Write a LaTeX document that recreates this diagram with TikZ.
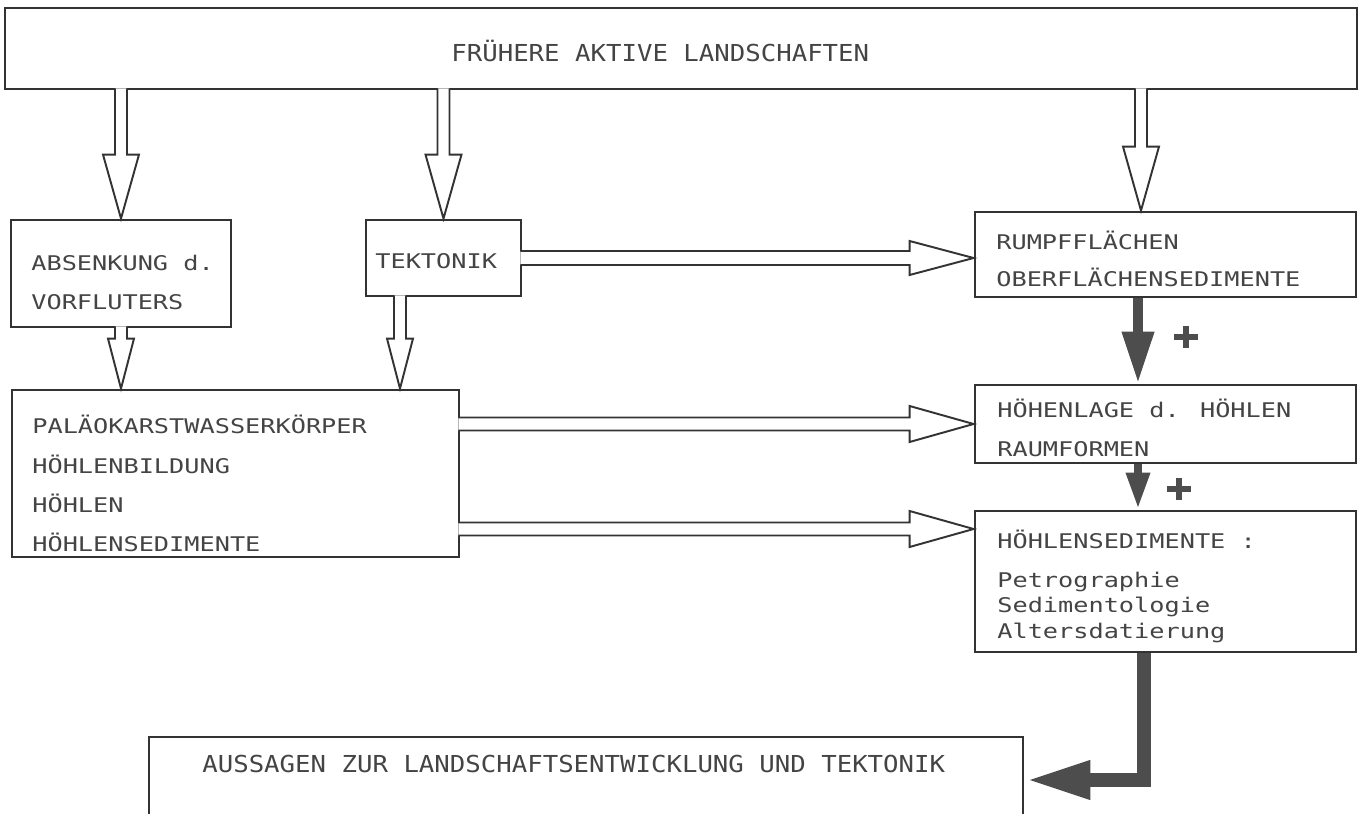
\documentclass[tikz,border=0pt]{standalone}
\usepackage{fontspec}
\newfontfamily\plotfont{DejaVu Sans Mono}[FakeStretch=1.25]
\newfontfamily\plotwide{DejaVu Sans Mono}[FakeStretch=1.1]
\usetikzlibrary{arrows.meta,calc,fit}

\definecolor{ink}{HTML}{333333}
\definecolor{textink}{HTML}{444444}
\definecolor{darkink}{HTML}{4D4D4D}

\tikzset{
  box/.style={draw=ink,line width=1.6pt,inner sep=0pt},
  txt/.style={anchor=base west,inner sep=0pt,text=textink,
    font=\plotfont\fontsize{11.5}{14}\selectfont},
  toptxt/.style={txt,font=\plotwide\fontsize{13.3}{16}\selectfont},
  hollow/.style={draw=ink,line width=1.1pt,fill=white,line join=miter},
  bigarrow/.style={darkink,line width=5.7pt,
    -{Triangle[length=1.04cm,width=0.6cm]}},
  midarrow/.style={darkink,line width=5pt,
    -{Triangle[length=0.74cm,width=0.44cm]}},
  elbowarrow/.style={darkink,line width=8.5pt,
    -{Triangle[length=1.32cm,width=0.7cm]}},
  plusmark/.style={darkink,line width=3.4pt},
}

% hollow block arrows: start, tip, shaft half width, head half width, head length
\newcommand\hdown[5]{%
  \filldraw[hollow] ($(#1)+(-#3,-2)$) -- ($(#2)+(-#3,-#5)$) -- ($(#2)+(-#4,-#5)$)
    -- (#2) -- ($(#2)+(#4,-#5)$) -- ($(#2)+(#3,-#5)$) -- ($(#1)+(#3,-2)$);}
\newcommand\hright[5]{%
  \filldraw[hollow] ($(#1)+(-2,-#3)$) -- ($(#2)+(-#5,-#3)$) -- ($(#2)+(-#5,-#4)$)
    -- (#2) -- ($(#2)+(-#5,#4)$) -- ($(#2)+(-#5,#3)$) -- ($(#1)+(-2,#3)$);}

\begin{document}
\begin{tikzpicture}[x=0.02cm,y=-0.02cm]
  \useasboundingbox (0,0) rectangle (1360,814);
  \clip (0,0) rectangle (1360,814);

  % boxes
  \node[box,fit={(5,8) (1357,89)}] (top) {};
  \node[box,fit={(11,220) (231,327)}] (absenk) {};
  \node[box,fit={(366,220) (521,296)}] (tekt) {};
  \node[box,fit={(975,212) (1356,297)}] (rumpf) {};
  \node[box,fit={(12,390) (459,557)}] (palaeo) {};
  \node[box,fit={(975,385) (1356,463)}] (hoehen) {};
  \node[box,fit={(975,511) (1356,652)}] (sedi) {};
  \node[box,fit={(149,737) (1023,850)}] (aussagen) {};

  % texts
  \node[toptxt] (t-top) at (451,62) {FRÜHERE AKTIVE LANDSCHAFTEN};
  \node[txt] (t-absenk1) at (31,271) {ABSENKUNG d.};
  \node[txt] (t-absenk2) at (31,310) {VORFLUTERS};
  \node[txt] (t-tekt) at (375,269) {TEKTONIK};
  \node[txt] (t-rumpf1) at (996,250) {RUMPFFLÄCHEN};
  \node[txt] (t-rumpf2) at (996,287) {OBERFLÄCHENSEDIMENTE};
  \foreach \t/\yy in {PALÄOKARSTWASSERKÖRPER/434,HÖHLENBILDUNG/473,
      HÖHLEN/512,HÖHLENSEDIMENTE/551}
    \node[txt] (t-pal-\yy) at (32,\yy) {\t};
  \node[txt] (t-hoehen1) at (997,418) {HÖHENLAGE d. HÖHLEN};
  \node[txt] (t-hoehen2) at (997,457) {RAUMFORMEN};
  \node[txt] (t-sedi) at (997,548) {HÖHLENSEDIMENTE :};
  \foreach \t/\yy in {Petrographie/587,Sedimentologie/612,Altersdatierung/638}
    \node[txt] (t-sedi-\yy) at (997,\yy) {\t};
  \node[toptxt] (t-aussagen) at (202,772)
    {AUSSAGEN ZUR LANDSCHAFTSENTWICKLUNG UND TEKTONIK};

  % hollow arrows
  \coordinate (col) at (1141,0);
  \coordinate (col2) at (400,0);
  \coordinate (row) at (0,529);
  \hdown{top.south -| absenk.north}{absenk.north}{6}{18}{64}
  \hdown{top.south -| tekt.north}{tekt.north}{6}{18}{64}
  \hdown{top.south -| col}{rumpf.north -| col}{6}{18}{64}
  \hdown{absenk.south}{palaeo.north -| absenk.south}{6}{13}{50}
  \hdown{tekt.south -| col2}{palaeo.north -| col2}{6}{13}{50}
  \hright{tekt.east}{rumpf.west |- tekt.east}{7}{17}{64}
  \hright{palaeo.east |- hoehen.west}{hoehen.west}{6.5}{18}{64}
  \hright{palaeo.east |- row}{sedi.west |- row}{6.5}{18}{64}

  % solid arrows
  \coordinate (col3) at (1138,0);
  \coordinate (bend) at (1144,780);
  \draw[bigarrow] (rumpf.south -| col3) -- (hoehen.north -| col3);
  \draw[midarrow] (hoehen.south -| col3) -- (sedi.north -| col3);
  \draw[elbowarrow] (sedi.south -| bend) |- (aussagen.east |- bend);
  \draw[plusmark] (1186,337) +(-12,0) -- +(12,0) +(0,-11) -- +(0,11);
  \draw[plusmark] (1179,489) +(-12,0) -- +(12,0) +(0,-11) -- +(0,11);
\end{tikzpicture}
\end{document}
